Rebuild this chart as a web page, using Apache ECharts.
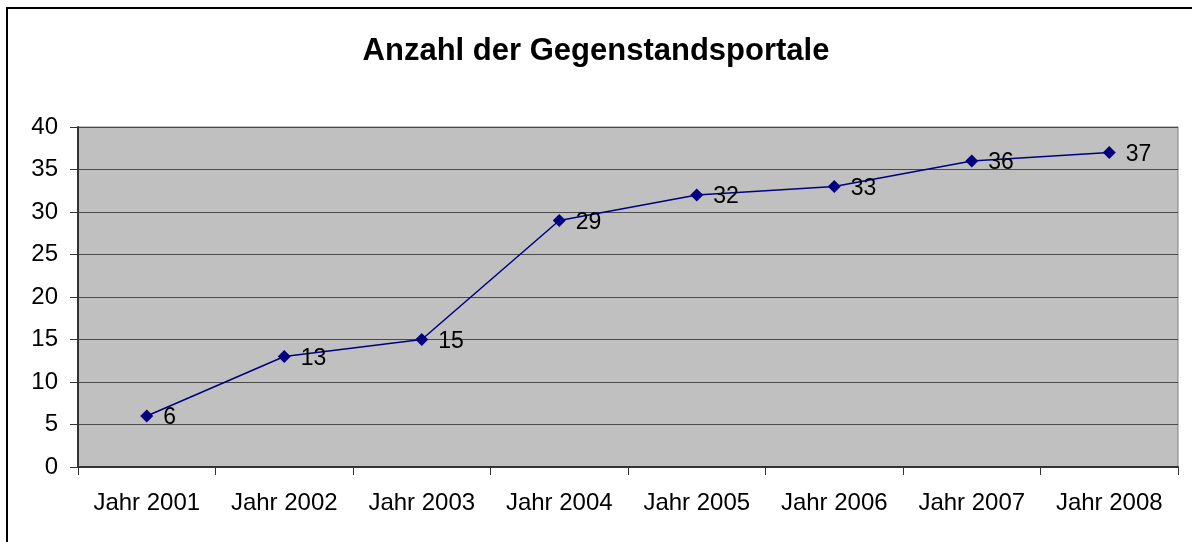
<!DOCTYPE html>
<html><head><meta charset="utf-8">
<script src="https://cdn.jsdelivr.net/npm/echarts@6/dist/echarts.min.js"></script>
<style>html,body{margin:0;padding:0;background:#fff}#c{width:1192px;height:542px}</style>
</head><body><div id="c"></div>
<script>
const categories = ['Jahr 2001','Jahr 2002','Jahr 2003','Jahr 2004','Jahr 2005','Jahr 2006','Jahr 2007','Jahr 2008'];
const values = [6, 13, 15, 29, 32, 33, 36, 37];
const titleText = 'Anzahl der Gegenstandsportale';
const font = 'Liberation Sans, Arial, sans-serif';
const chart = echarts.init(document.getElementById('c'), null, {renderer:'canvas'});
chart.setOption({
  animation:false,
  backgroundColor:'#ffffff',
  graphic:[{type:'rect', shape:{x:7,y:8,width:1200,height:560}, style:{fill:'none', stroke:'#000', lineWidth:2}, z:-1}],
  title:{text:titleText, left:'center', top:31, textStyle:{fontFamily:font, fontWeight:'bold', fontSize:31, color:'#000'}},
  grid:{left:78, right:14, top:127, bottom:75, show:true, backgroundColor:'#c0c0c0', borderColor:'#808080', borderWidth:1},
  xAxis:{type:'category', data:categories, boundaryGap:true,
    axisLine:{lineStyle:{color:'#333', width:2}},
    axisTick:{show:true, length:8, inside:false, interval:0, lineStyle:{color:'#333', width:1}},
    axisLabel:{fontFamily:font, fontSize:24, color:'#000', margin:24, interval:0}},
  yAxis:{type:'value', min:0, max:40, interval:5,
    axisLine:{show:true, lineStyle:{color:'#333', width:2}},
    axisTick:{show:true, length:8, lineStyle:{color:'#333'}},
    splitLine:{lineStyle:{color:'#4a4a4a', width:1}},
    axisLabel:{fontFamily:font, fontSize:24, color:'#000', margin:20}},
  series:[{type:'line', data:values, symbol:'diamond', symbolSize:13,
    lineStyle:{color:'#000080', width:1.5}, itemStyle:{color:'#000080'},
    label:{show:true, position:'right', distance:10, offset:[0,2], fontFamily:font, fontSize:23, color:'#000'}}]
});
</script></body></html>
